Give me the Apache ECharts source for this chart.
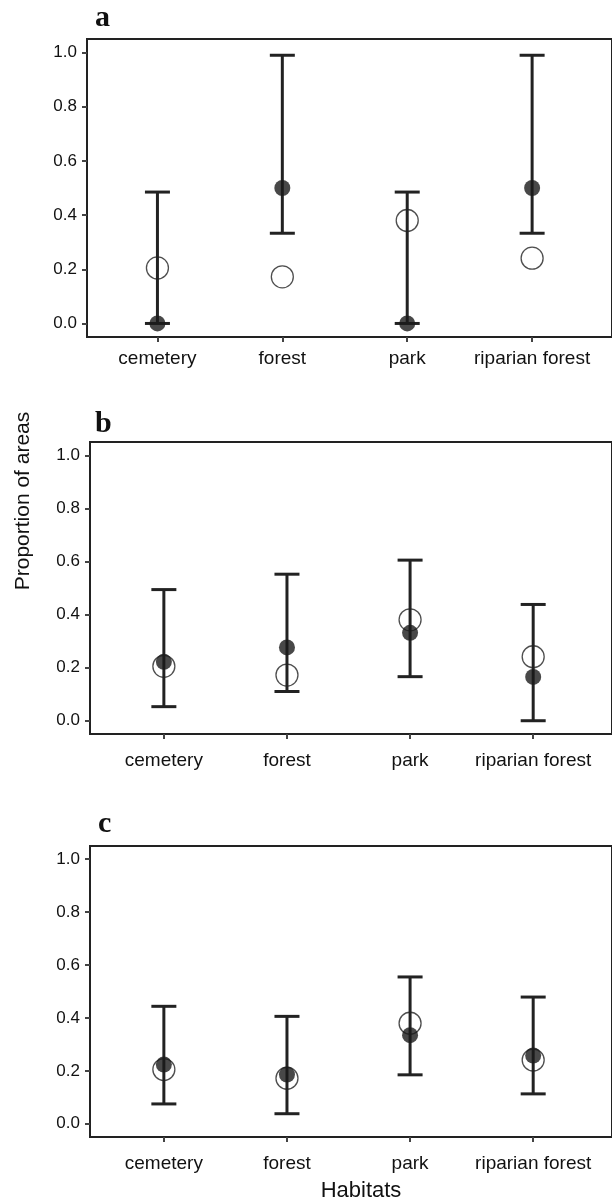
<!DOCTYPE html>
<html>
<head>
<meta charset="utf-8">
<script src="https://cdn.jsdelivr.net/npm/echarts@6/dist/echarts.min.js"></script>
<style>
html,body{margin:0;padding:0;background:#fff}
#chart{width:612px;height:1203px}
</style>
</head>
<body>
<div id="chart"></div>
<script>
// categories and tick labels
var habitats = ['cemetery', 'forest', 'park', 'riparian forest'];
var yTicks = [0, 0.2, 0.4, 0.6, 0.8, 1.0];

// open circles (expected proportion), same in every panel
var expected = [0.205, 0.172, 0.380, 0.241];

// panel a
var observedA = [0.0, 0.50, 0.0, 0.50];
var lowerA = [0.0, 0.333, 0.0, 0.333];
var upperA = [0.485, 0.99, 0.485, 0.99];

// panel b
var observedB = [0.222, 0.276, 0.331, 0.165];
var lowerB = [0.053, 0.110, 0.166, 0.0];
var upperB = [0.494, 0.552, 0.605, 0.438];

// panel c
var observedC = [0.224, 0.186, 0.335, 0.258];
var lowerC = [0.075, 0.038, 0.185, 0.113];
var upperC = [0.444, 0.406, 0.555, 0.479];

var FONT = '"Liberation Sans", Arial, sans-serif';
var INK = '#222';

var panels = [
  {obs: observedA, lo: lowerA, hi: upperA, left: 87, top: 39, height: 298, xmin: 0.436, labelMargin: 12},
  {obs: observedB, lo: lowerB, hi: upperB, left: 90, top: 442, height: 292, xmin: 0.4, labelMargin: 17},
  {obs: observedC, lo: lowerC, hi: upperC, left: 90, top: 846, height: 291, xmin: 0.4, labelMargin: 17}
];

function errorBar(params, api) {
  var x = api.value(0);
  var pLo = api.coord([x, api.value(1)]);
  var pHi = api.coord([x, api.value(2)]);
  var w = 12.5;
  var st = {stroke: INK, lineWidth: 3};
  return {
    type: 'group',
    children: [
      {type: 'line', shape: {x1: pLo[0], y1: pLo[1], x2: pHi[0], y2: pHi[1]}, style: st},
      {type: 'line', shape: {x1: pLo[0] - w, y1: pLo[1], x2: pLo[0] + w, y2: pLo[1]}, style: st},
      {type: 'line', shape: {x1: pHi[0] - w, y1: pHi[1], x2: pHi[0] + w, y2: pHi[1]}, style: st}
    ]
  };
}

var grids = [], xAxes = [], yAxes = [], series = [];
for (var i = 0; i < panels.length; i++) {
  var p = panels[i];
  var spacing = (612 - p.left) / (4.6 - p.xmin);
  grids.push({
    left: p.left, top: p.top, height: p.height,
    width: (4.6 - p.xmin) * spacing + 5,
    show: true, borderColor: INK, borderWidth: 2, backgroundColor: 'transparent'
  });
  xAxes.push({
    type: 'value', gridIndex: i, min: p.xmin, max: 4.6 + 5 / spacing,
    position: 'bottom',
    axisLine: {show: false, onZero: false},
    splitLine: {show: false},
    axisTick: {show: true, inside: false, customValues: [1, 2, 3, 4], length: 5, lineStyle: {color: '#444', width: 2}},
    axisLabel: {
      customValues: [1, 2, 3, 4], margin: p.labelMargin,
      fontFamily: FONT, fontSize: 19, color: '#111',
      formatter: function (v) { return habitats[Math.round(v) - 1]; }
    }
  });
  yAxes.push({
    type: 'value', gridIndex: i, min: -0.05, max: 1.05,
    position: 'left',
    axisLine: {show: false, onZero: false},
    splitLine: {show: false},
    axisTick: {show: true, inside: false, customValues: yTicks, length: 5, lineStyle: {color: '#444', width: 2}},
    axisLabel: {
      customValues: yTicks, margin: 10,
      fontFamily: FONT, fontSize: 17, color: '#111',
      formatter: function (v) { return v.toFixed(1); }
    }
  });

  var barData = [], expData = [], obsData = [];
  for (var k = 0; k < habitats.length; k++) {
    barData.push([k + 1, p.lo[k], p.hi[k]]);
    expData.push([k + 1, expected[k]]);
    obsData.push([k + 1, p.obs[k]]);
  }
  series.push({
    type: 'custom', xAxisIndex: i, yAxisIndex: i, renderItem: errorBar,
    data: barData, z: 2, clip: false, silent: true
  });
  series.push({
    type: 'scatter', xAxisIndex: i, yAxisIndex: i, data: expData,
    symbol: 'circle', symbolSize: 22, z: 3, silent: true,
    itemStyle: {color: 'rgba(0,0,0,0)', borderColor: INK, borderWidth: 1.3}
  });
  series.push({
    type: 'scatter', xAxisIndex: i, yAxisIndex: i, data: obsData,
    symbol: 'circle', symbolSize: 16, z: 4, silent: true,
    itemStyle: {color: '#1a1a1a'}
  });
}

var letterFont = 'bold 30px "Liberation Serif", "Times New Roman", serif';
var chart = echarts.init(document.getElementById('chart'));
chart.setOption({
  animation: false,
  backgroundColor: '#fff',
  grid: grids,
  xAxis: xAxes,
  yAxis: yAxes,
  series: series,
  graphic: [
    {type: 'text', x: 95, y: 33, style: {text: 'a', font: letterFont, fill: '#111', textVerticalAlign: 'bottom'}},
    {type: 'text', x: 95, y: 439, style: {text: 'b', font: letterFont, fill: '#111', textVerticalAlign: 'bottom'}},
    {type: 'text', x: 98, y: 839, style: {text: 'c', font: letterFont, fill: '#111', textVerticalAlign: 'bottom'}},
    {type: 'text', x: 23, y: 501, rotation: Math.PI / 2,
      style: {text: 'Proportion of areas', font: '21px ' + FONT, fill: '#111', textAlign: 'center', textVerticalAlign: 'middle'}},
    {type: 'text', x: 361, y: 1191,
      style: {text: 'Habitats', font: '22px ' + FONT, fill: '#111', textAlign: 'center', textVerticalAlign: 'middle'}}
  ]
});
</script>
</body>
</html>
